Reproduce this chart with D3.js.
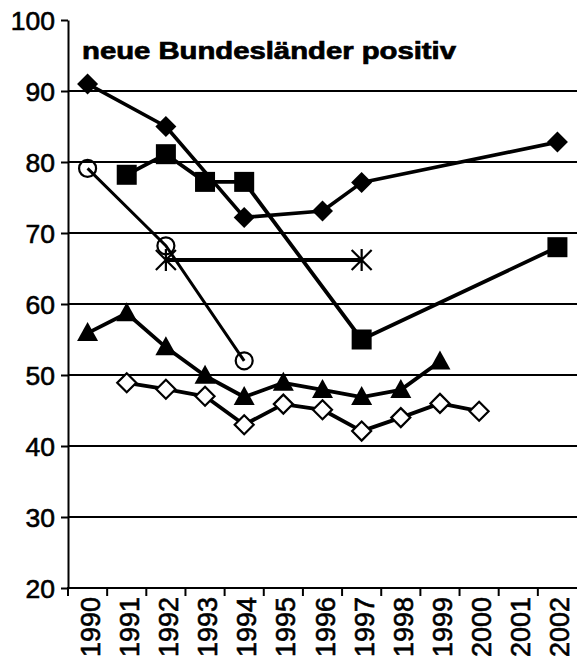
<!DOCTYPE html>
<html>
<head>
<meta charset="utf-8">
<script src="https://cdn.jsdelivr.net/npm/d3@7"></script>
<style>
  body { margin: 0; background: #fff; }
  svg { display: block; font-family: Arial, "Liberation Sans", sans-serif; }
  .grid line { stroke: #000; stroke-width: 2; }
</style>
</head>
<body>
<div id="chart"></div>
<script>
// data
var years = ["1990","1991","1992","1993","1994","1995","1996","1997","1998","1999","2000","2001","2002"];
var yTicks = [20, 30, 40, 50, 60, 70, 80, 90, 100];
var title = "neue Bundesländer positiv";

var diamondFilled = [["1990",91],["1992",85],["1994",72.2],["1996",73.1],["1997",77.1],["2002",82.8]];
var squareFilled  = [["1991",78.2],["1992",81.1],["1993",77.2],["1994",77.2],["1997",55],["2002",68]];
var circleOpen    = [["1990",79.1],["1992",68.2],["1994",52]];
var asterisk      = [["1992",66.2],["1997",66.2]];
var triangleFilled = [["1990",55.9],["1991",58.7],["1992",53.9],["1993",49.9],["1994",46.9],["1995",48.9],["1996",47.9],["1997",46.9],["1998",47.9],["1999",51.9]];
var diamondOpen   = [["1991",48.9],["1992",48],["1993",47],["1994",43],["1995",45.9],["1996",45.1],["1997",42.1],["1998",44],["1999",46],["2000",44.9]];

var W = 577, H = 659;
var plotLeft = 68, plotRight = 577, plotTop = 20, plotBottom = 588;

var svg = d3.select("#chart").append("svg")
  .attr("width", W)
  .attr("height", H);

svg.append("rect").attr("width", W).attr("height", H).attr("fill", "#fff");

var x = d3.scaleBand().domain(years).range([plotLeft, plotRight]);
var y = d3.scaleLinear().domain([20, 100]).range([plotBottom, plotTop]);

function cx(d) { return x(d[0]) + x.bandwidth() / 2; }
function cy(d) { return y(d[1]); }

// horizontal gridlines
svg.append("g")
  .attr("class", "grid")
  .selectAll("line")
  .data(yTicks.filter(function(t) { return t > 20 && t < 100; }))
  .enter().append("line")
  .attr("x1", plotLeft).attr("x2", plotRight)
  .attr("y1", function(d) { return y(d); })
  .attr("y2", function(d) { return y(d); });

// y axis
var yAxis = svg.append("g")
  .attr("transform", "translate(" + plotLeft + ",0)")
  .call(d3.axisLeft(y).tickValues(yTicks).tickSize(7).tickPadding(6).tickSizeOuter(0));
yAxis.select(".domain").attr("stroke", "#000").attr("stroke-width", 2);
yAxis.selectAll(".tick line").attr("stroke", "#000").attr("stroke-width", 2);
yAxis.selectAll(".tick text")
  .attr("font-size", 26.5)
  .attr("font-family", "Arial, 'Liberation Sans', sans-serif")
  .attr("fill", "#000")
  .attr("stroke", "#000")
  .attr("stroke-width", 0.6)
  .attr("dy", "0.36em");

// x axis: ticks on band boundaries
var xg = svg.append("g");
xg.append("line")
  .attr("x1", plotLeft - 1).attr("x2", plotRight)
  .attr("y1", plotBottom).attr("y2", plotBottom)
  .attr("stroke", "#000").attr("stroke-width", 2);
xg.selectAll(".xt")
  .data(years)
  .enter().append("line")
  .attr("class", "xt")
  .attr("x1", function(d) { return x(d); })
  .attr("x2", function(d) { return x(d); })
  .attr("y1", plotBottom).attr("y2", plotBottom + 8)
  .attr("stroke", "#000").attr("stroke-width", 2);
xg.selectAll("text")
  .data(years)
  .enter().append("text")
  .attr("transform", function(d) {
    return "translate(" + (x(d) + x.bandwidth() / 2 + 12) + "," + (plotBottom + 9) + ") rotate(-90)";
  })
  .attr("text-anchor", "end")
  .attr("font-size", 27)
  .attr("fill", "#000")
  .attr("stroke", "#000")
  .attr("stroke-width", 0.6)
  .text(function(d) { return d; });

// title
svg.append("text")
  .attr("x", 82)
  .attr("y", 59)
  .attr("font-size", 23)
  .attr("font-weight", "bold")
  .attr("textLength", 374)
  .attr("lengthAdjust", "spacingAndGlyphs")
  .attr("fill", "#000")
  .attr("stroke", "#000")
  .attr("stroke-width", 0.7)
  .text(title);

var line = d3.line().x(cx).y(cy);

function drawLine(data, w) {
  svg.append("path")
    .datum(data)
    .attr("d", line)
    .attr("fill", "none")
    .attr("stroke", "#000")
    .attr("stroke-width", w)
    .attr("stroke-linejoin", "round");
}

function diamondPath(r) {
  return "M0," + (-r) + "L" + r + ",0L0," + r + "L" + (-r) + ",0Z";
}

// filled diamond series
drawLine(diamondFilled, 3.6);
svg.selectAll(".dfill").data(diamondFilled).enter().append("path")
  .attr("class", "dfill")
  .attr("transform", function(d) { return "translate(" + cx(d) + "," + cy(d) + ")"; })
  .attr("d", diamondPath(10.5))
  .attr("fill", "#000");

// filled squares
drawLine(squareFilled, 3.8);
svg.selectAll(".sq").data(squareFilled).enter().append("rect")
  .attr("class", "sq")
  .attr("x", function(d) { return cx(d) - 10; })
  .attr("y", function(d) { return cy(d) - 10; })
  .attr("width", 20).attr("height", 20)
  .attr("fill", "#000");

// open circles
drawLine(circleOpen, 3);
svg.selectAll(".circ").data(circleOpen).enter().append("circle")
  .attr("class", "circ")
  .attr("cx", cx).attr("cy", cy)
  .attr("r", 8.5)
  .attr("fill", "none")
  .attr("stroke", "#000")
  .attr("stroke-width", 2.2);

// asterisks
drawLine(asterisk, 4.2);
var ast = svg.selectAll(".ast").data(asterisk).enter().append("g")
  .attr("class", "ast")
  .attr("transform", function(d) { return "translate(" + cx(d) + "," + cy(d) + ")"; });
ast.append("path")
  .attr("d", "M-10,-10L10,10M10,-10L-10,10M0,-11L0,11")
  .attr("stroke", "#000")
  .attr("stroke-width", 2.2)
  .attr("fill", "none");

// filled triangles
drawLine(triangleFilled, 3.8);
svg.selectAll(".tri").data(triangleFilled).enter().append("path")
  .attr("class", "tri")
  .attr("transform", function(d) { return "translate(" + cx(d) + "," + cy(d) + ")"; })
  .attr("d", "M0,-11L10.5,8L-10.5,8Z")
  .attr("fill", "#000");

// open diamonds
drawLine(diamondOpen, 3.8);
svg.selectAll(".dopen").data(diamondOpen).enter().append("path")
  .attr("class", "dopen")
  .attr("transform", function(d) { return "translate(" + cx(d) + "," + cy(d) + ")"; })
  .attr("d", diamondPath(9.5))
  .attr("fill", "#fff")
  .attr("stroke", "#000")
  .attr("stroke-width", 2.2);
</script>
</body>
</html>
